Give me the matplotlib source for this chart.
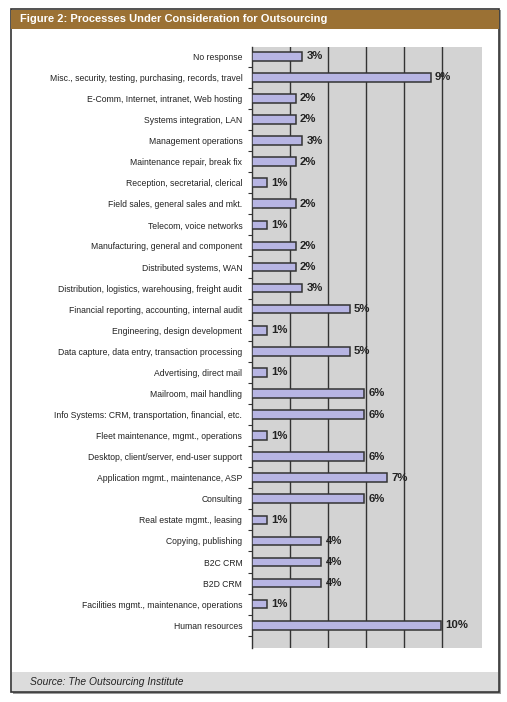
import matplotlib.pyplot as plt
from matplotlib.patches import Rectangle

categories = [
    "No response",
    "Misc., security, testing, purchasing, records, travel",
    "E-Comm, Internet, intranet, Web hosting",
    "Systems integration, LAN",
    "Management operations",
    "Maintenance repair, break fix",
    "Reception, secretarial, clerical",
    "Field sales, general sales and mkt.",
    "Telecom, voice networks",
    "Manufacturing, general and component",
    "Distributed systems, WAN",
    "Distribution, logistics, warehousing, freight audit",
    "Financial reporting, accounting, internal audit",
    "Engineering, design development",
    "Data capture, data entry, transaction processing",
    "Advertising, direct mail",
    "Mailroom, mail handling",
    "Info Systems: CRM, transportation, financial, etc.",
    "Fleet maintenance, mgmt., operations",
    "Desktop, client/server, end-user support",
    "Application mgmt., maintenance, ASP",
    "Consulting",
    "Real estate mgmt., leasing",
    "Copying, publishing",
    "B2C CRM",
    "B2D CRM",
    "Facilities mgmt., maintenance, operations",
    "Human resources",
]
values = [2.65, 9.4, 2.3, 2.3, 2.65, 2.3, 0.8, 2.3, 0.8, 2.3, 2.3, 2.65,
          5.15, 0.8, 5.15, 0.8, 5.9, 5.9, 0.8, 5.9, 7.1, 5.9, 0.8, 3.65,
          3.65, 3.65, 0.8, 9.95]
labels = ["3%", "9%", "2%", "2%", "3%", "2%", "1%", "2%", "1%", "2%", "2%",
          "3%", "5%", "1%", "5%", "1%", "6%", "6%", "1%", "6%", "7%", "6%",
          "1%", "4%", "4%", "4%", "1%", "10%"]

title = "Figure 2: Processes Under Consideration for Outsourcing"
source = "Source: The Outsourcing Institute"

plt.rcParams['font.family'] = ['Liberation Sans', 'DejaVu Sans']

W, H = 507, 702
fig = plt.figure(figsize=(W / 100, H / 100), dpi=100)
fig.patch.set_facecolor("white")

# outer frame, title bar and source band
fig.patches.append(Rectangle((13 / W, 1 - 694 / H), 488 / W, 684 / H,
                             transform=fig.transFigure, facecolor="#9a9a9a",
                             edgecolor="none", zorder=-3))
fig.patches.append(Rectangle((11 / W, 1 - 692 / H), 488 / W, 683 / H,
                             transform=fig.transFigure, facecolor="white",
                             edgecolor="#333333", lw=1.2, zorder=-2))
fig.patches.append(Rectangle((11 / W, 1 - 29 / H), 488 / W, 19 / H,
                             transform=fig.transFigure, facecolor="#9b7134",
                             edgecolor="none", zorder=-1))
fig.patches.append(Rectangle((12 / W, 1 - 691 / H), 486 / W, 19 / H,
                             transform=fig.transFigure, facecolor="#dcdcdc",
                             edgecolor="none", zorder=-1))
fig.text(20 / W, 1 - 19.5 / H, title, color="white", fontsize=8.0,
         fontweight="bold", va="center", ha="left", zorder=3)
fig.text(30 / W, 1 - 682 / H, source, color="#222222", fontsize=7.4,
         style="italic", va="center", ha="left", zorder=3)

ax = fig.add_axes([252 / W, 1 - 648 / H, 230 / W, 601 / H])
ax.set_zorder(5)
ax.set_facecolor("#d3d3d3")
y = list(range(len(categories)))
ax.barh(y, values, height=0.41, color="#b7b5e3", edgecolor="#333333",
        linewidth=1.1, zorder=3)
for yi, v, lab in zip(y, values, labels):
    ax.text(v + 0.22, yi, lab, va="center", ha="left", fontsize=8.2,
            fontweight="bold", color="#222222", zorder=4)

ax.set_xlim(0, 12.1)
ax.set_ylim(len(categories) - 1 + 1.08, -0.44)
ax.set_xticks([2, 4, 6, 8, 10])
ax.xaxis.grid(True, color="#333333", lw=1.0, zorder=1)
ax.set_axisbelow(True)
ax.tick_params(axis="x", length=0, labelbottom=False)
ax.set_yticks(y)
ax.set_yticklabels(categories, fontsize=6.2, color="#222222")
ax.tick_params(axis="y", length=0, pad=7)
ax.set_yticks([i + 0.5 for i in y], minor=True)
ax.tick_params(axis="y", which="minor", length=3, width=0.8, color="#333333")
for s in ["top", "right", "bottom"]:
    ax.spines[s].set_visible(False)
ax.spines["left"].set_color("#333333")
ax.spines["left"].set_linewidth(1.0)

fig.savefig("out.png", dpi=100)
